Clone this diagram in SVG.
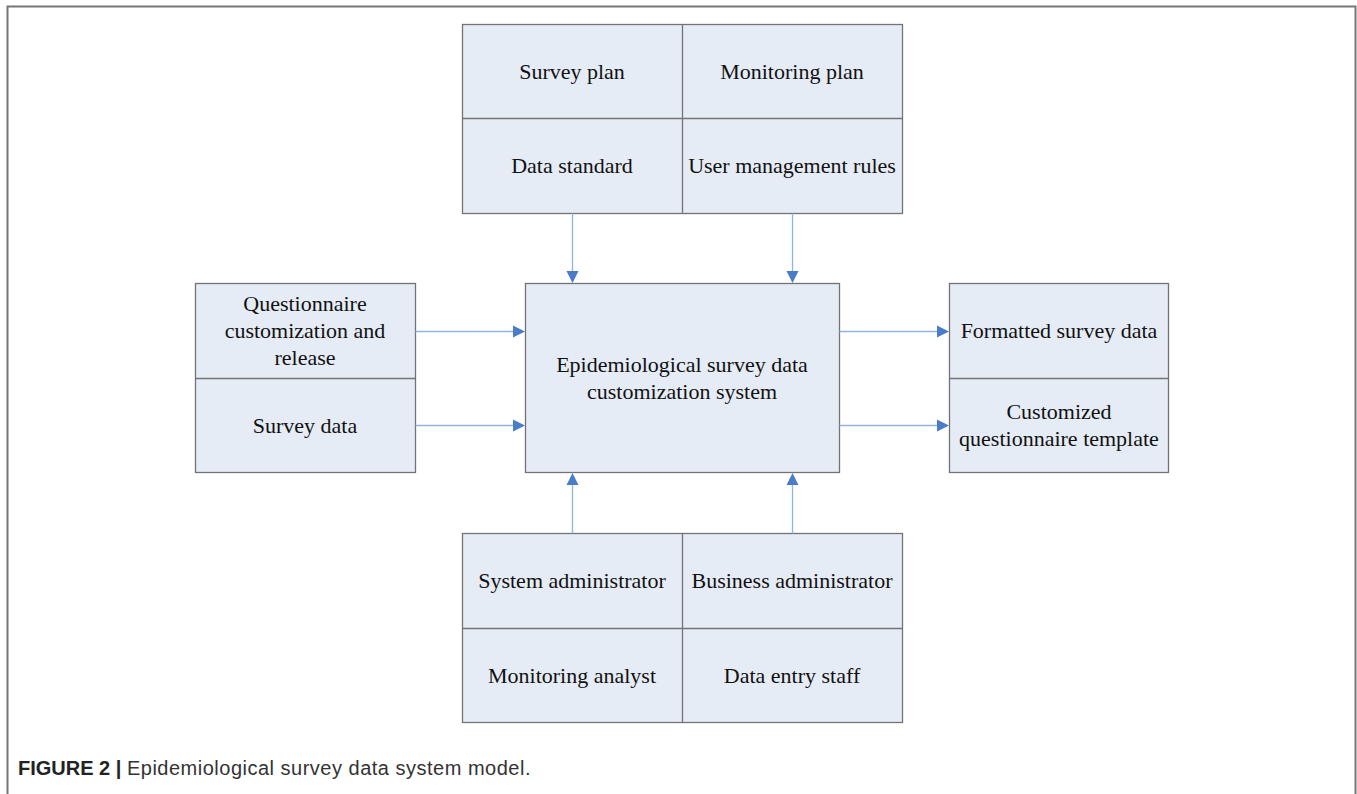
<svg xmlns="http://www.w3.org/2000/svg" width="1357" height="794" viewBox="0 0 1357 794">
<style>
.box{fill:#e6ecf6;stroke:#737373;stroke-width:1.3}
.div{stroke:#737373;stroke-width:1.3;fill:none}
.t{font-family:"Liberation Serif",serif;font-size:22px;fill:#111;text-anchor:middle}
.c{stroke:#8fb4e3;stroke-width:1.3;fill:none}
.h{fill:#4a7cc8}
.cap{font-family:"Liberation Sans",Arial,sans-serif;font-size:20px;fill:#333}
</style>
<rect width="1357" height="794" fill="#fff"/>
<path d="M7.5 800 V6.5 H1355.5 V800" fill="none" stroke="#777" stroke-width="2"/>
<g id="top">
<rect class="box" x="462.5" y="24.5" width="440" height="189"/>
<path class="div" d="M682.5 24.5 V213.5 M462.5 118.5 H902.5"/>
<text class="t" x="572" y="79">Survey plan</text>
<text class="t" x="792" y="79">Monitoring plan</text>
<text class="t" x="572" y="173">Data standard</text>
<text class="t" x="792" y="173">User management rules</text>
</g>
<g id="left">
<rect class="box" x="195.5" y="283.5" width="220" height="189"/>
<path class="div" d="M195.5 378.5 H415.5"/>
<text class="t" x="305" y="311">Questionnaire</text>
<text class="t" x="305" y="338">customization and</text>
<text class="t" x="305" y="365">release</text>
<text class="t" x="305" y="433">Survey data</text>
</g>
<g id="center">
<rect class="box" x="525.5" y="283.5" width="314" height="189"/>
<text class="t" x="682" y="372">Epidemiological survey data</text>
<text class="t" x="682" y="399">customization system</text>
</g>
<g id="right">
<rect class="box" x="949.5" y="283.5" width="219" height="189"/>
<path class="div" d="M949.5 378.5 H1168.5"/>
<text class="t" x="1059" y="338">Formatted survey data</text>
<text class="t" x="1059" y="419">Customized</text>
<text class="t" x="1059" y="446">questionnaire template</text>
</g>
<g id="bottom">
<rect class="box" x="462.5" y="533.5" width="440" height="189"/>
<path class="div" d="M682.5 533.5 V722.5 M462.5 628.5 H902.5"/>
<text class="t" x="572" y="588">System administrator</text>
<text class="t" x="792" y="588">Business administrator</text>
<text class="t" x="572" y="683">Monitoring analyst</text>
<text class="t" x="792" y="683">Data entry staff</text>
</g>
<g id="connectors">
<path class="c" d="M572.5 213.5 V273 M792.5 213.5 V273"/>
<path class="h" d="M566.5 271 H578.5 L572.5 283 Z M786.5 271 H798.5 L792.5 283 Z"/>
<path class="c" d="M415.5 331.5 H515 M415.5 425.5 H515"/>
<path class="h" d="M513 325.5 V337.5 L525 331.5 Z M513 419.5 V431.5 L525 425.5 Z"/>
<path class="c" d="M839.5 331.5 H939 M839.5 425.5 H939"/>
<path class="h" d="M937 325.5 V337.5 L949 331.5 Z M937 419.5 V431.5 L949 425.5 Z"/>
<path class="c" d="M572.5 533.5 V483 M792.5 533.5 V483"/>
<path class="h" d="M566.5 485 H578.5 L572.5 473 Z M786.5 485 H798.5 L792.5 473 Z"/>
</g>
<text class="cap" x="18" y="775"><tspan font-weight="bold" fill="#222">FIGURE 2 | </tspan><tspan letter-spacing="0.5">Epidemiological survey data system model.</tspan></text>
</svg>
